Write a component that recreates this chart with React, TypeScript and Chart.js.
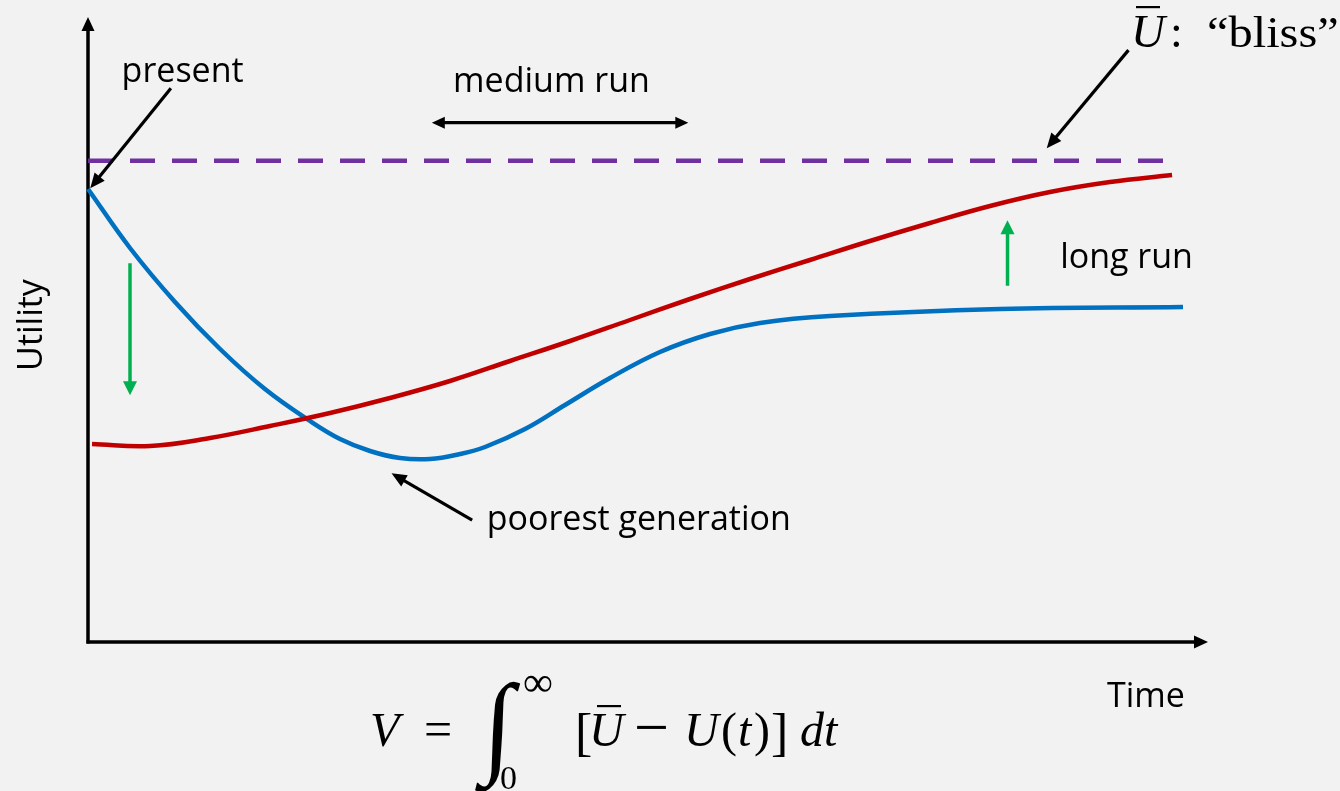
import { useEffect, useRef } from "react";
import { Chart, registerables } from "chart.js";

Chart.register(...registerables);

// Utility path under present policy (blue) and under the alternative path (red)
const blueTime = [0, 3.75, 7.77, 11.79, 15.8, 19.82, 22.5, 25.18, 27.86, 30.54, 33.21, 35.45, 39.02, 42.59, 46.61, 51.07, 55.54, 60.0, 66.25, 81.43, 97.77];
const blueUtility = [72.48, 63.04, 54.4, 46.88, 40.48, 35.36, 32.48, 30.56, 29.44, 29.28, 30.08, 31.2, 34.08, 37.92, 42.24, 46.4, 49.28, 51.04, 52.16, 53.28, 53.6];

const redTime = [0.36, 5.54, 10.89, 16.25, 21.61, 26.96, 32.32, 37.68, 43.04, 48.39, 53.75, 59.11, 64.46, 69.82, 75.18, 80.54, 85.89, 91.25, 96.79];
const redUtility = [31.68, 31.36, 32.64, 34.56, 36.64, 39.04, 41.76, 44.96, 48.16, 51.52, 54.88, 58.08, 61.12, 64.16, 67.04, 69.76, 72.0, 73.6, 74.72];

// Bliss level and its horizontal extent
const blissTime = [0, 96.0];
const blissUtility = [77.0, 77.0];

const BLUE = "#0070c0";
const RED = "#c00000";
const PURPLE = "#7030a0";
const GREEN = "#00b050";
const SANS = '"Open Sans", "Noto Sans", sans-serif';
const SERIF = '"Liberation Serif", "DejaVu Serif", serif';

// Black pointer arrows (data units): from tail to tip
const pointers = [
  { from: [7.4, 88.6], to: [0.2, 72.6] }, // present
  { from: [92.9, 94.7], to: [85.6, 79.0] }, // bliss
  { from: [34.3, 19.5], to: [27.1, 27.0] }, // poorest generation
];
// Medium-run span (double-headed)
const mediumSpan = { from: [30.7, 83.1], to: [53.6, 83.1] };
// Green shift arrows
const shifts = [
  { from: [3.75, 60.6], to: [3.75, 39.5] },
  { from: [82.1, 57.0], to: [82.1, 67.5] },
];
// Text labels: [text, x, y] in data units (left, baseline)
const labels: [string, number, number][] = [
  ["present", 3.0, 89.6],
  ["medium run", 32.6, 88.0],
  ["long run", 86.8, 59.9],
  ["poorest generation", 35.6, 17.9],
];

function zip(xs: number[], ys: number[]) {
  return xs.map((x, i) => ({ x, y: ys[i] }));
}

function arrowHead(ctx: CanvasRenderingContext2D, x1: number, y1: number, x2: number, y2: number, len: number, half: number) {
  const a = Math.atan2(y2 - y1, x2 - x1);
  const c = Math.cos(a), s = Math.sin(a);
  ctx.beginPath();
  ctx.moveTo(x2, y2);
  ctx.lineTo(x2 - len * c - half * s, y2 - len * s + half * c);
  ctx.lineTo(x2 - len * c + half * s, y2 - len * s - half * c);
  ctx.closePath();
  ctx.fill();
}

function arrow(ctx: CanvasRenderingContext2D, x1: number, y1: number, x2: number, y2: number, color: string, width: number, len: number, half: number) {
  const a = Math.atan2(y2 - y1, x2 - x1);
  ctx.strokeStyle = color;
  ctx.fillStyle = color;
  ctx.lineWidth = width;
  ctx.beginPath();
  ctx.moveTo(x1, y1);
  ctx.lineTo(x2 - (len - 1) * Math.cos(a), y2 - (len - 1) * Math.sin(a));
  ctx.stroke();
  arrowHead(ctx, x1, y1, x2, y2, len, half);
}

const diagramPlugin = {
  id: "diagram",
  beforeDatasetsDraw(chart: any) {
    const { ctx, chartArea } = chart;
    const { left, bottom } = chartArea;
    ctx.save();
    // axes with arrow heads
    arrow(ctx, left, bottom + 1.5, left, chartArea.top, "#000", 3.5, 14, 6.5);
    arrow(ctx, left - 1.5, bottom, chartArea.right, bottom, "#000", 3.5, 14, 6.5);
    ctx.restore();
  },
  afterDatasetsDraw(chart: any) {
    const { ctx } = chart;
    const xs = chart.scales.x;
    const ys = chart.scales.y;
    const px = (v: number) => xs.getPixelForValue(v);
    const py = (v: number) => ys.getPixelForValue(v);
    ctx.save();

    for (const p of pointers) {
      arrow(ctx, px(p.from[0]), py(p.from[1]), px(p.to[0]), py(p.to[1]), "#000", 3.2, 15, 6.5);
    }
    {
      const x1 = px(mediumSpan.from[0]), x2 = px(mediumSpan.to[0]), y = py(mediumSpan.from[1]);
      ctx.strokeStyle = "#000";
      ctx.fillStyle = "#000";
      ctx.lineWidth = 3.2;
      ctx.beginPath();
      ctx.moveTo(x1 + 10, y);
      ctx.lineTo(x2 - 10, y);
      ctx.stroke();
      arrowHead(ctx, x2, y, x1, y, 13, 6);
      arrowHead(ctx, x1, y, x2, y, 13, 6);
    }
    for (const g of shifts) {
      arrow(ctx, px(g.from[0]), py(g.from[1]), px(g.to[0]), py(g.to[1]), GREEN, 3.5, 14, 7);
    }

    ctx.fillStyle = "#000";
    ctx.textBaseline = "alphabetic";
    ctx.textAlign = "left";
    ctx.font = `34px ${SANS}`;
    for (const [t, x, y] of labels) ctx.fillText(t, px(x), py(y));

    // axis titles
    ctx.fillText("Time", 1107, 707);
    ctx.save();
    ctx.translate(42, 325);
    ctx.rotate(-Math.PI / 2);
    ctx.textAlign = "center";
    ctx.fillText("Utility", 0, 0);
    ctx.restore();

    // bliss label: Ū: “bliss”
    ctx.font = `italic 47px ${SERIF}`;
    ctx.fillText("U", 1131, 47);
    ctx.fillRect(1136, 6, 24, 2.2);
    ctx.font = `46px ${SERIF}`;
    ctx.fillText(":", 1170, 47);
    ctx.save();
    ctx.translate(1207, 47);
    ctx.scale(1.1, 1);
    ctx.font = `44px ${SERIF}`;
    ctx.fillText("\u201cbliss\u201d", 0, 0);
    ctx.restore();

    // V = ∫_0^∞ [Ū − U(t)] dt
    const base = 746;
    ctx.font = `italic 48px ${SERIF}`;
    ctx.fillText("V", 370, base);
    ctx.font = `50px ${SERIF}`;
    ctx.fillText("=", 424, base);
    ctx.save();
    ctx.translate(482, 762);
    ctx.transform(1, 0, -0.05, 1.06, 0, 0);
    ctx.font = `106px ${SERIF}`;
    ctx.fillText("\u222b", 0, 0);
    ctx.restore();
    ctx.font = `42px ${SERIF}`;
    ctx.fillText("\u221e", 523, 696);
    ctx.font = `34px ${SERIF}`;
    ctx.fillText("0", 500, 789);
    ctx.font = `52px ${SERIF}`;
    ctx.fillText("[", 575, base + 4);
    ctx.font = `italic 48px ${SERIF}`;
    ctx.fillText("U", 589, base);
    ctx.fillRect(597, 705, 24, 2.2);
    ctx.font = `62px ${SERIF}`;
    ctx.fillText("\u2212", 634, base + 2);
    ctx.font = `italic 48px ${SERIF}`;
    ctx.fillText("U", 684, base);
    ctx.font = `48px ${SERIF}`;
    ctx.fillText("(", 721, base);
    ctx.font = `italic 48px ${SERIF}`;
    ctx.fillText("t", 738, base);
    ctx.font = `48px ${SERIF}`;
    ctx.fillText(")", 754, base);
    ctx.font = `52px ${SERIF}`;
    ctx.fillText("]", 771, base + 4);
    ctx.font = `italic 48px ${SERIF}`;
    ctx.fillText("dt", 800, base);

    ctx.restore();
  },
};

export default function App() {
  const canvasRef = useRef<HTMLCanvasElement>(null);

  useEffect(() => {
    let chart: Chart | null = null;
    let cancelled = false;
    const make = () => {
      if (cancelled || !canvasRef.current) return;
      chart = new Chart(canvasRef.current, {
        type: "line",
        data: {
          datasets: [
            {
              label: "bliss",
              data: zip(blissTime, blissUtility),
              borderColor: PURPLE,
              borderWidth: 4.5,
              borderDash: [25, 17],
              pointRadius: 0,
              tension: 0,
              clip: false as any,
            },
            {
              label: "red",
              data: zip(redTime, redUtility),
              borderColor: RED,
              borderWidth: 4.5,
              pointRadius: 0,
              tension: 0.4,
              clip: false as any,
            },
            {
              label: "blue",
              data: zip(blueTime, blueUtility),
              borderColor: BLUE,
              borderWidth: 4.5,
              pointRadius: 0,
              tension: 0.4,
              clip: false as any,
            },
          ],
        },
        options: {
          responsive: false,
          animation: false,
          devicePixelRatio: 1,
          layout: { padding: { left: 88, top: 17, right: 132, bottom: 149 } },
          plugins: { legend: { display: false }, tooltip: { enabled: false } },
          events: [],
          scales: {
            x: { type: "linear", min: 0, max: 100, display: false },
            y: { type: "linear", min: 0, max: 100, display: false },
          },
        },
        plugins: [diagramPlugin],
      });
    };
    const fonts = [`34px "Open Sans"`, `46px "Liberation Serif"`, `italic 48px "Liberation Serif"`];
    Promise.all(fonts.map((f) => document.fonts.load(f))).then(make, make);
    return () => {
      cancelled = true;
      if (chart) chart.destroy();
    };
  }, []);

  return (
    <div style={{ position: "fixed", left: 0, top: 0, width: 1340, height: 791, background: "#f2f2f2" }}>
      <canvas ref={canvasRef} width={1340} height={791} style={{ display: "block" }} />
    </div>
  );
}
